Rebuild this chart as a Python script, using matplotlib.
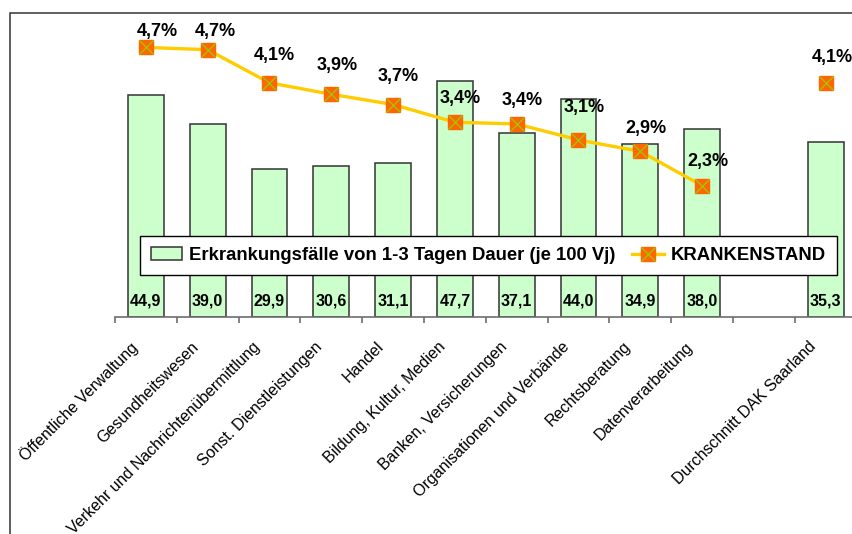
import numpy as np
import matplotlib
matplotlib.use('Agg')
import matplotlib.pyplot as plt
from matplotlib.patches import Rectangle
from matplotlib.legend_handler import HandlerTuple
from matplotlib.transforms import ScaledTranslation

plt.rcParams['font.family'] = ['Liberation Sans', 'DejaVu Sans']

branchen = ['Öffentliche Verwaltung', 'Gesundheitswesen',
            'Verkehr und Nachrichtenübermittlung', 'Sonst. Dienstleistungen',
            'Handel', 'Bildung, Kultur, Medien', 'Banken, Versicherungen',
            'Organisationen und Verbände', 'Rechtsberatung', 'Datenverarbeitung',
            '', 'Durchschnitt DAK Saarland']
# Erkrankungsfaelle 1-3 Tage je 100 Vj (leerer Platz vor dem Durchschnitt)
faelle = [44.9, 39.0, 29.9, 30.6, 31.1, 47.7, 37.1, 44.0, 34.9, 38.0, np.nan, 35.3]
# Krankenstand in Prozent
krankenstand = [4.72, 4.68, 4.1, 3.9, 3.72, 3.41, 3.38, 3.1, 2.9, 2.3, np.nan, 4.1]

# Lage der Prozent-Beschriftungen (Pixel relativ zum Marker)
label_dx = [11, 8, 5, 6, 5, 5, 5, 6, 6, 6, 0, 7]
label_dy = [16, 18, 27, 29, 28, 24, 23, 32, 23, 24, 0, 25]

fig = plt.figure(figsize=(8.53, 5.34), dpi=100)
ax = fig.add_axes([115/853, 1 - 317/534, 741.6/853, 297/534])
ax2 = ax.twinx()

x = np.arange(len(branchen))
ax.bar(x, faelle, width=0.58, color='#CCFFCC', edgecolor='#333333', linewidth=1.1,
       zorder=2)
for xi, f in zip(x, faelle):
    if np.isnan(f):
        continue
    ax.annotate(f'{f:.1f}'.replace('.', ','), (xi, 0), xytext=(0, 9),
                textcoords='offset pixels', ha='center', va='bottom',
                fontsize=11.5, fontweight='bold', zorder=3)

ax.set_xlim(-0.5, len(branchen) - 0.5)
ax.set_ylim(0, 60)
ax.set_yticks([])
for s in ['top', 'left', 'right']:
    ax.spines[s].set_visible(False)
ax.spines['bottom'].set_color('#6e6e6e')
ax.spines['bottom'].set_linewidth(1.2)

# Kategorien-Beschriftung schraeg, Striche an den Grenzen
ax.set_xticks(np.arange(-0.5, len(branchen)))
ax.set_xticklabels([])
ax.tick_params(axis='x', length=4, width=1.2, color='#6e6e6e', direction='out')
off = ScaledTranslation(-17/100, -22/100, fig.dpi_scale_trans)
trans = ax.get_xaxis_transform() + off
for xi, name in zip(x, branchen):
    ax.text(xi, 0, name, transform=trans, rotation=45, rotation_mode='anchor',
            ha='right', va='top', fontsize=11.5)

# Krankenstand-Linie
ax2.set_ylim(0, 5.2)
ax2.axis('off')
l1, = ax2.plot(x, krankenstand, color='#FFCC00', linewidth=2.4, marker='s',
               markersize=10.5, markerfacecolor='#FF6600', markeredgecolor='#FF6600',
               zorder=4)
l2, = ax2.plot(x, krankenstand, linestyle='none', marker='x', markersize=10,
               markeredgecolor='#99CC00', markeredgewidth=0.9, zorder=5)
for xi, k, dx, dy in zip(x, krankenstand, label_dx, label_dy):
    if np.isnan(k):
        continue
    ax2.annotate(f'{k:.1f}%'.replace('.', ','), (xi, k), xytext=(dx, dy),
                 textcoords='offset pixels', ha='center', va='center',
                 fontsize=13, fontweight='bold', zorder=6)

patch = ax.patches[0]
fig.legend([patch, (l1, l2)],
           ['Erkrankungsfälle von 1-3 Tagen Dauer (je 100 Vj)', 'KRANKENSTAND'],
           handler_map={tuple: HandlerTuple(ndivide=1)},
           loc='center', bbox_to_anchor=(488.5/853, 1 - 255.5/534), ncol=2,
           prop={'weight': 'bold', 'size': 13.3}, frameon=True, fancybox=False,
           edgecolor='black', framealpha=1, handlelength=1.7, handleheight=0.7,
           columnspacing=0.9, handletextpad=0.4, borderpad=0.6)

# Rahmen um das Diagramm
fig.patches.append(Rectangle((10/853, -0.1), 1.2, 1.1 - 13/534, fill=False,
                             edgecolor='#333333', linewidth=1.1,
                             transform=fig.transFigure))

plt.savefig('out.png', dpi=100)
